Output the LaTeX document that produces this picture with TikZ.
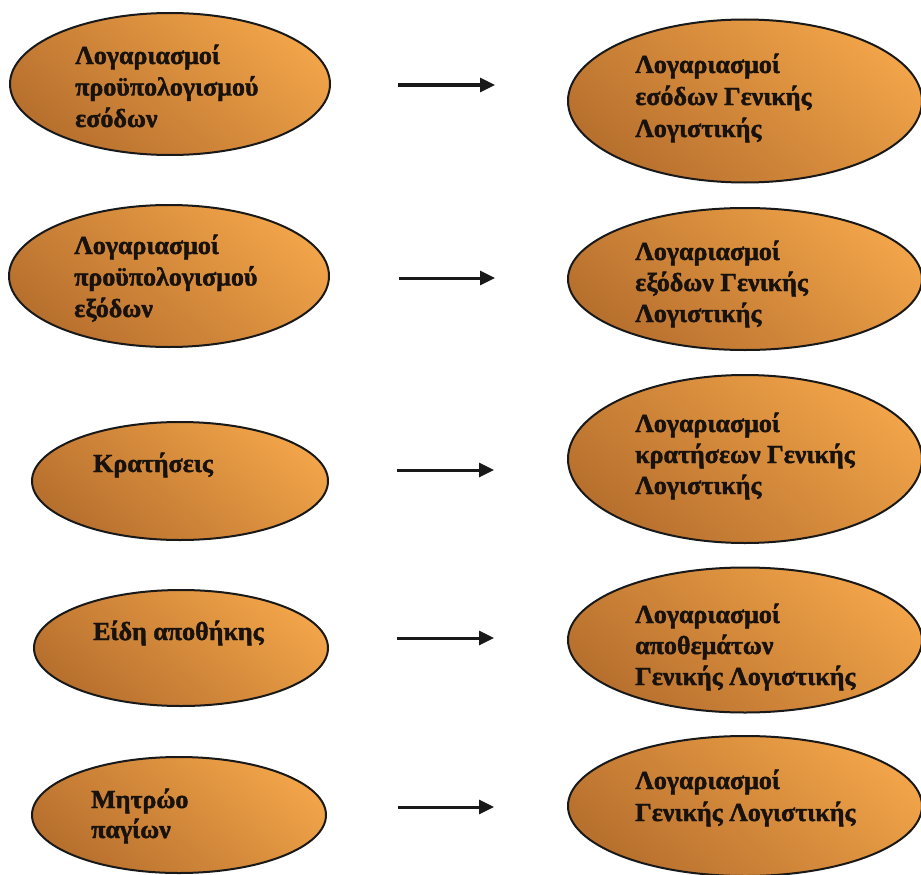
\documentclass[tikz,border=0pt]{standalone}
\usepackage{fontspec}
\setmainfont{Liberation Serif}
\newfontfamily\lblfont[BoldFeatures={FakeBold=1.6}]{Liberation Serif}
\usetikzlibrary{shapes.geometric,arrows.meta}
\definecolor{ovlight}{RGB}{240,163,72}
\definecolor{ovdark}{RGB}{184,112,46}
\definecolor{txt}{RGB}{24,18,14}
\tikzset{
  oval/.style={ellipse, draw=black!90, line width=2pt, inner sep=0pt,
    top color=ovlight, bottom color=ovdark, shading angle=-40},
  lbl/.style={anchor=base west, inner sep=0pt, text=txt,
    font=\lblfont\bfseries\fontsize{26}{31}\selectfont},
  conn/.style={line width=3pt, black!90, -{Triangle[length=15pt,width=14pt]}}
}
\begin{document}
\begin{tikzpicture}[x=1pt,y=-1pt]
\path[fill=white] (0,0) rectangle (921,875);
\useasboundingbox (0,0) rectangle (921,875);
\clip (0,0) rectangle (921,875);
% left column
\node[oval, minimum width=320, minimum height=142] (L1) at (170,84) {};
\node[oval, minimum width=320, minimum height=142] (L2) at (169,276) {};
\node[oval, minimum width=296, minimum height=118] (L3) at (180,481) {};
\node[oval, minimum width=294, minimum height=116] (L4) at (181,648) {};
\node[oval, minimum width=294, minimum height=116] (L5) at (179,815) {};
% right column
\node[oval, minimum width=354, minimum height=163] (R1) at (745,101) {};
\node[oval, minimum width=354, minimum height=142] (R2) at (745,279) {};
\node[oval, minimum width=354, minimum height=168] (R3) at (745,459) {};
\node[oval, minimum width=354, minimum height=145] (R4) at (745,640) {};
\node[oval, minimum width=354, minimum height=140] (R5) at (745,806) {};
% left texts
\node[lbl] (t1a) at (75,64) {Λογαριασμοί};
\node[lbl] (t1b) at (75,95.5) {προϋπολογισμού};
\node[lbl] (t1c) at (75,127) {εσόδων};
\node[lbl] (t2a) at (74,254) {Λογαριασμοί};
\node[lbl] (t2b) at (74,285.5) {προϋπολογισμού};
\node[lbl] (t2c) at (74,317) {εξόδων};
\node[lbl] (t3a) at (93,472) {Κρατήσεις};
\node[lbl] (t4a) at (93,640) {Είδη αποθήκης};
\node[lbl] (t5a) at (91,808) {Μητρώο};
\node[lbl] (t5b) at (91,838) {παγίων};
% right texts
\node[lbl] (r1a) at (635,73) {Λογαριασμοί};
\node[lbl] (r1b) at (635,105) {εσόδων Γενικής};
\node[lbl] (r1c) at (635,137) {Λογιστικής};
\node[lbl] (r2a) at (635,260) {Λογαριασμοί};
\node[lbl] (r2b) at (635,291) {εξόδων Γενικής};
\node[lbl] (r2c) at (635,322) {Λογιστικής};
\node[lbl] (r3a) at (635,432) {Λογαριασμοί};
\node[lbl] (r3b) at (635,463) {κρατήσεων Γενικής};
\node[lbl] (r3c) at (635,494) {Λογιστικής};
\node[lbl] (r4a) at (635,623) {Λογαριασμοί};
\node[lbl] (r4b) at (635,654) {αποθεμάτων};
\node[lbl] (r4c) at (635,685) {Γενικής Λογιστικής};
\node[lbl] (r5a) at (635,789) {Λογαριασμοί};
\node[lbl] (r5b) at (635,821) {Γενικής Λογιστικής};
% arrows
\coordinate (a1s) at (398,85);  \coordinate (a1e) at (495,85);
\coordinate (a2s) at (399,278); \coordinate (a2e) at (495,278);
\coordinate (a3s) at (397,470); \coordinate (a3e) at (494,470);
\coordinate (a4s) at (397,638); \coordinate (a4e) at (494,638);
\coordinate (a5s) at (398,807); \coordinate (a5e) at (494,807);
\draw[conn] (a1s) -- (a1e);
\draw[conn] (a2s) -- (a2e);
\draw[conn] (a3s) -- (a3e);
\draw[conn] (a4s) -- (a4e);
\draw[conn] (a5s) -- (a5e);
\end{tikzpicture}
\end{document}
